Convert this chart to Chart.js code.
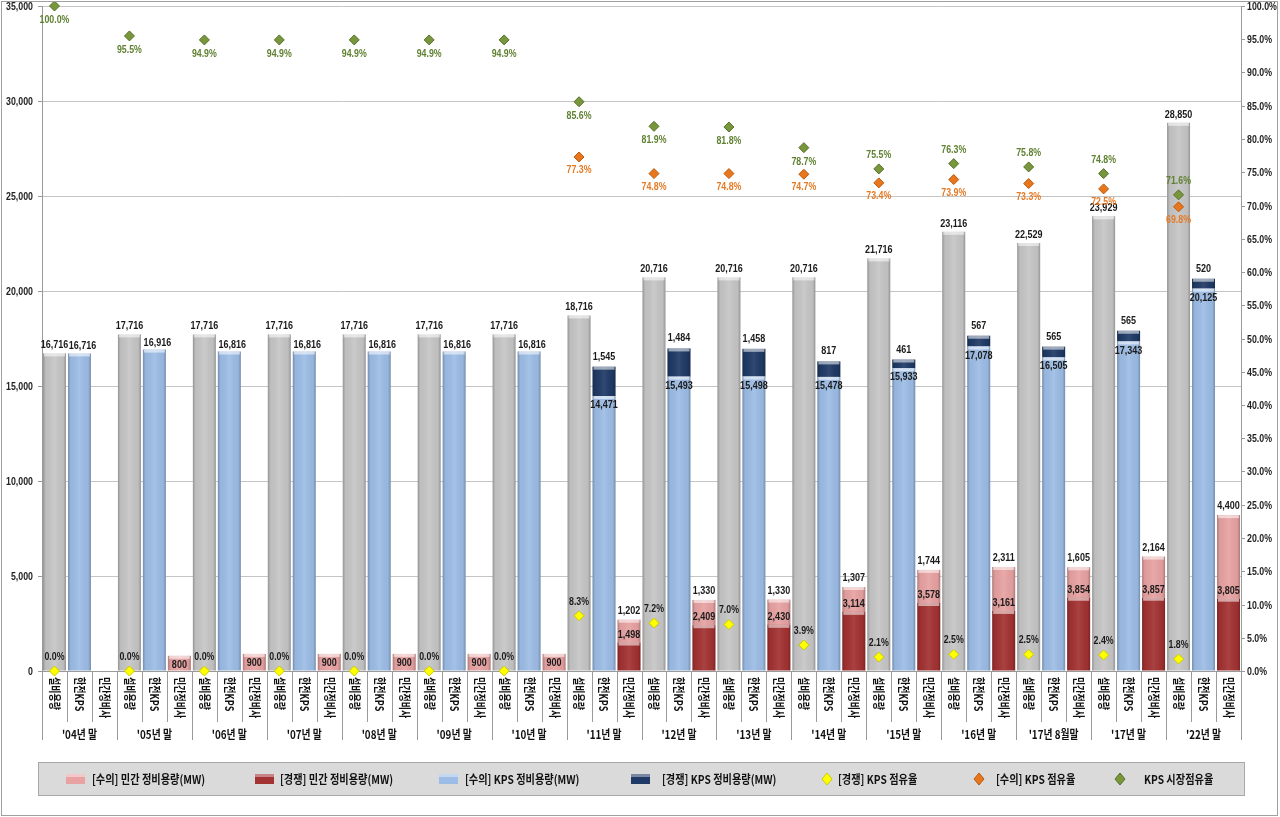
<!DOCTYPE html>
<html>
<head>
<meta charset="utf-8">
<script src="https://cdn.jsdelivr.net/npm/chart.js@4.4.1/dist/chart.umd.min.js"></script>
<style>
  html, body { margin: 0; padding: 0; background: #fff; }
  #wrap { width: 1280px; height: 817px; }
</style>
</head>
<body>
<div id="wrap"><canvas id="grafiek" width="1280" height="817"></canvas></div>
<script>
// 연도 그룹과 막대 구분
const groups = ["'04년 말", "'05년 말", "'06년 말", "'07년 말", "'08년 말", "'09년 말", "'10년 말", "'11년 말",
  "'12년 말", "'13년 말", "'14년 말", "'15년 말", "'16년 말", "'17년 8월말", "'17년 말", "'22년 말"];
const subLabels = ["설비용량", "한전KPS", "민간정비사"];

// 용량 (MW)
const capacity = [16716, 17716, 17716, 17716, 17716, 17716, 17716, 18716, 20716, 20716, 20716, 21716, 23116, 22529, 23929, 28850];
const kpsContract = [16716, 16916, 16816, 16816, 16816, 16816, 16816, 14471, 15493, 15498, 15478, 15933, 17078, 16505, 17343, 20125];
const kpsCompete = [null, null, null, null, null, null, null, 1545, 1484, 1458, 817, 461, 567, 565, 565, 520];
const privCompete = [null, null, null, null, null, null, null, 1498, 2409, 2430, 3114, 3578, 3161, 3854, 3857, 3805];
const privContract = [null, 800, 900, 900, 900, 900, 900, 1202, 1330, 1330, 1307, 1744, 2311, 1605, 2164, 4400];

// 점유율 (%)
const shareCompete = [0, 0, 0, 0, 0, 0, 0, 8.3, 7.2, 7.0, 3.9, 2.1, 2.5, 2.5, 2.4, 1.8];
const shareContract = [null, null, null, null, null, null, null, 77.3, 74.8, 74.8, 74.7, 73.4, 73.9, 73.3, 72.5, 69.8];
const shareMarket = [100.0, 95.5, 94.9, 94.9, 94.9, 94.9, 94.9, 85.6, 81.9, 81.8, 78.7, 75.5, 76.3, 75.8, 74.8, 71.6];

// 축 눈금
const leftTicks = [0, 5000, 10000, 15000, 20000, 25000, 30000, 35000];
const rightTicks = [0, 5, 10, 15, 20, 25, 30, 35, 40, 45, 50, 55, 60, 65, 70, 75, 80, 85, 90, 95, 100];

// 그룹 값을 48칸 카테고리에 배치
function spread(arr, slot) {
  const out = new Array(groups.length * 3).fill(null);
  arr.forEach((v, g) => { out[g * 3 + slot] = v; });
  return out;
}
const categories = groups.flatMap(g => subLabels.map(s => g + " " + s));

const fmt = v => v.toLocaleString("en-US");
const pct = v => v.toFixed(1) + "%";
const NUM_FONT = "bold 11px 'Liberation Sans', Arial, sans-serif";
const KR_FONT = "bold 12px 'Noto Sans CJK KR', sans-serif";

function squeezeText(ctx, text, x, y, sx, align) {
  ctx.save();
  ctx.translate(x, y);
  ctx.scale(sx, 1);
  ctx.textAlign = align || "center";
  ctx.fillText(text, 0, 0);
  ctx.restore();
}

// 막대 입체감
const bevelPlugin = {
  id: "bevel",
  afterDatasetDraw(chart, args) {
    const meta = args.meta;
    if (meta.type !== "bar") return;
    const ctx = chart.ctx;
    ctx.save();
    meta.data.forEach((el, i) => {
      const v = chart.data.datasets[args.index].data[i];
      if (v === null || v === undefined) return;
      const p = el.getProps(["x", "y", "base", "width"], true);
      const left = p.x - p.width / 2, top = Math.min(p.y, p.base), h = Math.abs(p.base - p.y);
      const g = ctx.createLinearGradient(left, 0, left + p.width, 0);
      g.addColorStop(0, "rgba(0,0,0,0.25)");
      g.addColorStop(0.12, "rgba(0,0,0,0.04)");
      g.addColorStop(0.5, "rgba(255,255,255,0.08)");
      g.addColorStop(0.88, "rgba(0,0,0,0.04)");
      g.addColorStop(1, "rgba(0,0,0,0.25)");
      ctx.fillStyle = g;
      ctx.fillRect(left, top, p.width, h);
      ctx.fillStyle = "rgba(255,255,255,0.55)";
      ctx.fillRect(left + 1, top, p.width - 2, Math.min(3, h));
    });
    ctx.restore();
  }
};

// 값 레이블, 축, 범례
const labelPlugin = {
  id: "labels",
  afterDraw(chart) {
    const ctx = chart.ctx;
    const area = chart.chartArea;
    const xs = chart.scales.x, ys = chart.scales.y, ys2 = chart.scales.y2;
    const m = i => chart.getDatasetMeta(i).data;
    ctx.save();
    ctx.textBaseline = "middle";

    // 막대 값
    ctx.font = NUM_FONT;
    ctx.fillStyle = "#1a1a1a";
    groups.forEach((g, gi) => {
      const c0 = gi * 3, c1 = gi * 3 + 1, c2 = gi * 3 + 2;
      const gray = m(0)[c0];
      squeezeText(ctx, fmt(capacity[gi]), gray.x, gray.y - 8, 0.82);

      const lb = m(1)[c1];
      if (kpsCompete[gi] === null) {
        squeezeText(ctx, fmt(kpsContract[gi]), lb.x + 3, lb.y - 7, 0.82);
      } else {
        squeezeText(ctx, fmt(kpsContract[gi]), lb.x, lb.y + 9, 0.82);
        const db = m(2)[c1];
        squeezeText(ctx, fmt(kpsCompete[gi]), db.x, db.y - 10, 0.82);
      }

      if (privContract[gi] !== null) {
        const pk = m(4)[c2];
        if (privCompete[gi] === null) {
          squeezeText(ctx, fmt(privContract[gi]), pk.x, pk.y + 9, 0.82);
        } else {
          const dr = m(3)[c2];
          squeezeText(ctx, fmt(privCompete[gi]), dr.x, dr.y - 8, 0.82);
          squeezeText(ctx, fmt(privContract[gi]), pk.x, pk.y - 9, 0.82);
        }
      }

      // 점유율 값
      const yp = m(5)[c0];
      ctx.fillStyle = "#1a1a1a";
      squeezeText(ctx, pct(shareCompete[gi]), yp.x, yp.y - 14, 0.8);
      if (shareContract[gi] !== null) {
        const op = m(6)[c0];
        ctx.fillStyle = "#e57a25";
        squeezeText(ctx, pct(shareContract[gi]), op.x, op.y + 13, 0.8);
      }
      const gp = m(7)[c0];
      ctx.fillStyle = "#5f8030";
      squeezeText(ctx, pct(shareMarket[gi]), gp.x, gi <= 10 ? gp.y + 14 : gp.y - 14, 0.8);
      ctx.fillStyle = "#1a1a1a";
    });

    // 왼쪽 / 오른쪽 축 눈금
    ctx.strokeStyle = "#9a9a9a";
    ctx.lineWidth = 1;
    ctx.fillStyle = "#222";
    leftTicks.forEach(v => {
      const y = Math.round(ys.getPixelForValue(v)) + 0.5;
      ctx.beginPath(); ctx.moveTo(area.left - 4, y); ctx.lineTo(area.left, y); ctx.stroke();
      squeezeText(ctx, fmt(v), area.left - 9, y, 0.8, "right");
    });
    rightTicks.forEach(v => {
      const y = Math.round(ys2.getPixelForValue(v)) + 0.5;
      ctx.beginPath(); ctx.moveTo(area.right, y); ctx.lineTo(area.right + 4, y); ctx.stroke();
      squeezeText(ctx, pct(v), area.right + 6, y, 0.8, "left");
    });

    // 카테고리 축
    const step = xs.width / categories.length;
    for (let k = 0; k <= categories.length; k++) {
      const x = Math.round(xs.left + k * step) + 0.5;
      ctx.beginPath();
      ctx.moveTo(x, area.bottom);
      ctx.lineTo(x, k % 3 === 0 ? area.bottom + 69 : area.bottom + 51);
      ctx.stroke();
    }
    ctx.font = KR_FONT;
    ctx.fillStyle = "#111";
    categories.forEach((c, i) => {
      const x = xs.getPixelForValue(i);
      ctx.save();
      ctx.translate(x, area.bottom + 6);
      ctx.rotate(Math.PI / 2);
      ctx.scale(0.75, 1);
      ctx.textAlign = "left";
      ctx.fillText(subLabels[i % 3], 0, 0);
      ctx.restore();
    });
    groups.forEach((g, gi) => {
      const x = xs.left + (gi * 3 + 1.5) * step;
      squeezeText(ctx, g, x, area.bottom + 63, 0.82);
    });

    // 범례
    ctx.fillStyle = "#dadada";
    ctx.fillRect(38, 762, 1206, 33);
    ctx.strokeStyle = "#a8a8a8";
    ctx.strokeRect(38.5, 762.5, 1206, 33);
    const ly = 779;
    const items = [
      { ds: 4, box: 66, text: 92 },
      { ds: 3, box: 255, text: 280 },
      { ds: 1, box: 439, text: 465 },
      { ds: 2, box: 631, text: 662 },
      { ds: 5, dot: 827, text: 838 },
      { ds: 6, dot: 979, text: 996 },
      { ds: 7, dot: 1120, text: 1144 }
    ];
    items.forEach(it => {
      const ds = chart.data.datasets[it.ds];
      if (it.box !== undefined) {
        ctx.fillStyle = ds.backgroundColor;
        ctx.fillRect(it.box, ly - 5, 19, 10);
        ctx.fillStyle = "rgba(255,255,255,0.4)";
        ctx.fillRect(it.box, ly - 5, 19, 3);
      } else {
        ctx.fillStyle = ds.backgroundColor;
        ctx.strokeStyle = ds.borderColor;
        ctx.beginPath();
        ctx.moveTo(it.dot, ly - 6); ctx.lineTo(it.dot + 5, ly);
        ctx.lineTo(it.dot, ly + 6); ctx.lineTo(it.dot - 5, ly);
        ctx.closePath(); ctx.fill(); ctx.stroke();
      }
      ctx.fillStyle = "#111";
      squeezeText(ctx, ds.label, it.text, ly, 0.85, "left");
    });

    // 테두리
    ctx.strokeStyle = "#a0a0a0";
    ctx.strokeRect(1.5, 1.5, 1276, 814);
    ctx.restore();
  }
};

const barBase = { type: "bar", stack: "s", barPercentage: 0.92, categoryPercentage: 1, borderWidth: 0, order: 1 };
const pointBase = { type: "line", yAxisID: "y2", showLine: false, pointStyle: "rectRot", pointRadius: 5,
  pointBorderWidth: 1, clip: false, order: 0 };

const ctx = document.getElementById("grafiek").getContext("2d");
new Chart(ctx, {
  data: {
    labels: categories,
    datasets: [
      { ...barBase, label: "설비용량", data: spread(capacity, 0), backgroundColor: "#c6c6c6" },
      { ...barBase, label: "[수의] KPS 정비용량(MW)", data: spread(kpsContract, 1), backgroundColor: "#9dbde6" },
      { ...barBase, label: "[경쟁] KPS 정비용량(MW)", data: spread(kpsCompete, 1), backgroundColor: "#1f3a66" },
      { ...barBase, label: "[경쟁] 민간 정비용량(MW)", data: spread(privCompete, 2), backgroundColor: "#a33232" },
      { ...barBase, label: "[수의] 민간 정비용량(MW)", data: spread(privContract, 2), backgroundColor: "#e8a2a2" },
      { ...pointBase, label: "[경쟁] KPS 점유율", data: spread(shareCompete, 0), backgroundColor: "#ffff00", borderColor: "#c9c900" },
      { ...pointBase, label: "[수의] KPS 점유율", data: spread(shareContract, 0), backgroundColor: "#e8761c", borderColor: "#b85a10" },
      { ...pointBase, label: "KPS 시장점유율", data: spread(shareMarket, 0), backgroundColor: "#78963c", borderColor: "#55702a" }
    ]
  },
  options: {
    responsive: false,
    animation: false,
    devicePixelRatio: 1,
    layout: { padding: { top: 6, left: 0, right: 0, bottom: 0 } },
    plugins: { legend: { display: false }, tooltip: { enabled: false } },
    scales: {
      x: {
        stacked: true,
        ticks: { display: false },
        grid: { display: false },
        border: { display: true, color: "#9a9a9a" },
        afterFit(scale) { scale.height = 146; }
      },
      y: {
        stacked: true,
        position: "left",
        min: 0, max: 35000,
        ticks: { display: false, stepSize: 5000 },
        grid: { color: "#c4c4c4", drawTicks: false },
        border: { display: true, color: "#9a9a9a" },
        afterFit(scale) { scale.width = 42; }
      },
      y2: {
        position: "right",
        min: 0, max: 100,
        ticks: { display: false, stepSize: 5 },
        grid: { drawOnChartArea: false, drawTicks: false },
        border: { display: true, color: "#9a9a9a" },
        afterFit(scale) { scale.width = 39; }
      }
    }
  },
  plugins: [bevelPlugin, labelPlugin]
});
</script>
</body>
</html>
